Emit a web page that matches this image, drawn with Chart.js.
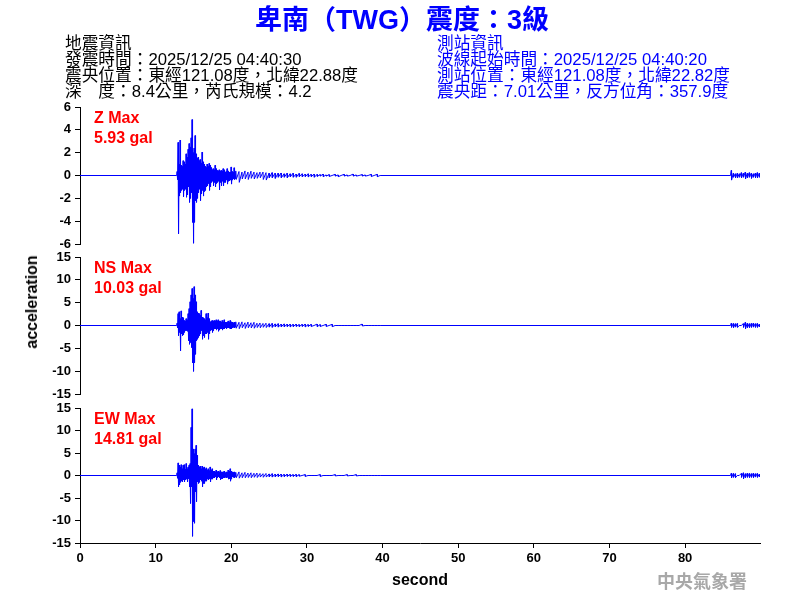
<!DOCTYPE html>
<html>
<head>
<meta charset="utf-8">
<script src="https://cdn.jsdelivr.net/npm/chart.js@4"></script>
<style>
  body { margin: 0; background: #fff; }
  #wrap { position: relative; width: 800px; height: 600px; overflow: hidden; font-family: Arial, "Liberation Sans", "Noto Sans CJK TC", sans-serif; }
  #wrap canvas { position: absolute; left: 0; top: 0; }
  .txt { position: absolute; white-space: nowrap; }
  #title { left: 0; width: 804px; top: 5px; text-align: center; font-size: 27px; font-weight: bold; color: #0000ff; line-height: 30px; }
  .info { font-size: 16.7px; line-height: 16px; top: 36px; }
  #quake { left: 65px; color: #000; }
  #station { left: 437px; color: #0000ff; }
  .peak { left: 94px; color: #ff0000; font-size: 16px; font-weight: bold; line-height: 20px; }
  #ytitle { left: 32px; top: 302px; font-size: 16px; font-weight: bold; transform: translate(-50%, -50%) rotate(-90deg); }
  #mark { left: 657px; top: 567px; font-size: 18px; font-weight: bold; color: #a8a8a8; }
</style>
</head>
<body>
<div id="wrap">
  <canvas id="chartZ" width="800" height="600"></canvas>
  <canvas id="chartNS" width="800" height="600"></canvas>
  <canvas id="chartEW" width="800" height="600"></canvas>
  <div id="title" class="txt">卑南（TWG）震度：3級</div>
  <div id="quake" class="txt info"></div>
  <div id="station" class="txt info"></div>
  <div id="ytitle" class="txt">acceleration</div>
  <div id="mark" class="txt">中央氣象署</div>
</div>
<script>
// header text
const quakeInfo = ["地震資訊", "發震時間：2025/12/25 04:40:30", "震央位置：東經121.08度，北緯22.88度", "深　度：8.4公里，芮氏規模：4.2"];
const stationInfo = ["測站資訊", "波線起始時間：2025/12/25 04:40:20", "測站位置：東經121.08度，北緯22.82度", "震央距：7.01公里，反方位角：357.9度"];

// channels and peak ground acceleration (gal)
const channels = ["Z", "NS", "EW"];
const peakGal = [5.93, 10.03, 14.81];

// tick labels
const secondTicks = [0, 10, 20, 30, 40, 50, 60, 70, 80];
const zTicks = [-6, -4, -2, 0, 2, 4, 6];
const hTicks = [-15, -10, -5, 0, 5, 10, 15];
const xMax = 89.9;

// sampling of the traced waveform (seconds)
const burstT0 = 12.83, burstDt = 0.1322;   // strong motion, one max/min pair per step
const codaT0 = 20.62, codaDt = 0.397;      // coda, one max/min pair per step
const lateT0 = 86.1, lateDt = 0.264;       // arrival at the end of the record

// Z component (gal)
const zBurst = [0.35,-0.35, 2.9,-5.1, 1.0,-1.8, 3.1,-1.5, 0.9,-1.3, 0.8,-1.2, 1.3,-1.85, 1.2,-1.3, 1.0,-1.2, 1.9,-1.9,
  1.6,-1.7, 2.3,-1.0, 2.8,-2.35, 2.5,-2.0, 3.3,-1.5, 4.9,-4.1, 2.0,-5.93, 2.4,-4.1, 3.5,-2.2, 1.9,-2.35,
  1.5,-2.0, 1.6,-1.5, 1.3,-1.2, 1.4,-2.2, 1.1,-1.6, 2.05,-1.3, 1.2,-1.8, 1.0,-1.4, 0.8,-1.3, 0.7,-1.0,
  1.0,-0.9, 0.8,-0.7, 1.06,-1.3, 0.9,-1.0, 0.7,-0.6, 0.5,-0.5, 0.6,-0.9, 0.5,-0.6, 0.9,-1.0, 0.6,-0.7,
  0.45,-0.6, 0.4,-0.5, 0.5,-1.25, 0.4,-0.6, 0.45,-0.9, 0.4,-0.5, 0.6,-0.9, 0.5,-0.6, 0.3,-0.6, 0.35,-0.4,
  0.6,-0.75, 0.4,-0.5, 0.3,-0.45, 0.3,-0.4, 0.75,-0.75, 0.35,-0.4, 0.3,-0.3, 0.68,-0.35, 0.3,-0.3];
const zCoda = [0.4,-0.35, 0.35,-0.6, 0.3,-0.3, 0.4,-0.3, 0.3,-0.35, 0.38,-0.25, 0.3,-0.3, 0.25,-0.25, 0.3,-0.2, 0.3,-0.35,
  0.25,-0.4, 0.2,-0.2, 0.25,-0.2, 0.2,-0.25, 0.2,-0.15, 0.22,-0.2, 0.15,-0.15, 0.2,-0.2, 0.15,-0.12, 0.2,-0.15,
  0.12,-0.15, 0.18,-0.1, 0.15,-0.12, 0.12,-0.1, 0.15,-0.12, 0.1,-0.1, 0.12,-0.15, 0.1,-0.08, 0.08,-0.05, 0.12,-0.1,
  0.05,-0.05, 0.08,-0.08, 0,0, 0.1,-0.05, 0.05,-0.1, 0,0, 0.1,-0.05, 0.05,-0.05, 0,0, 0.12,-0.05,
  0.05,-0.05, 0,0, 0.08,-0.05, 0.05,-0.05, 0,0, 0.1,-0.08, 0,0, 0.1,-0.1, 0,0];
const zLate = [0.45,-0.4, 0.2,-0.15, 0.15,-0.2, 0.2,-0.2, 0.15,-0.15, 0.25,-0.2, 0.2,-0.15, 0.3,-0.3, 0.2,-0.2, 0.25,-0.15,
  0.2,-0.25, 0.15,-0.15, 0.2,-0.2, 0.25,-0.2, 0.2,-0.15];

// NS component (gal)
const nsBurst = [0.5,-0.5, 2.6,-2.2, 3.0,-1.5, 1.5,-5.55, 3.2,-1.85, 1.85,-2.2, 1.7,-2.0, 1.1,-1.5, 1.0,-1.1, 1.5,-1.1,
  1.25,-1.25, 2.6,-3.3, 3.7,-4.1, 5.2,-3.7, 6.7,-4.8, 8.1,-8.15, 5.9,-10.03, 8.5,-8.15, 6.7,-6.3, 5.2,-3.3,
  3.0,-3.0, 2.7,-2.6, 2.6,-2.2, 2.2,-1.85, 3.3,-1.1, 1.85,-3.0, 1.7,-2.2, 1.5,-2.6, 1.25,-1.85, 2.6,-1.85,
  1.7,-1.5, 2.7,-3.0, 1.5,-1.85, 0.75,-1.1, 1.0,-1.0, 1.1,-1.5, 1.0,-1.1, 1.1,-0.75, 1.0,-0.75, 1.25,-1.0,
  1.0,-0.75, 1.25,-1.25, 1.0,-1.0, 1.0,-0.75, 0.75,-0.75, 1.1,-1.0, 0.8,-0.75, 1.25,-0.75, 0.75,-0.5, 0.75,-0.75,
  0.7,-0.5, 1.0,-0.5, 0.7,-0.6, 1.1,-0.75, 0.8,-0.7, 0.75,-0.5, 0.5,-0.4, 0.75,-0.5, 0.5,-0.4];
const nsCoda = [0.8,-0.6, 0.7,-0.7, 0.8,-0.5, 0.6,-0.65, 0.75,-0.5, 0.6,-0.55, 0.7,-0.6, 0.5,-0.45, 0.55,-0.5, 0.45,-0.4,
  0.5,-0.45, 0.4,-0.35, 0.45,-0.4, 0.35,-0.3, 0.4,-0.35, 0.3,-0.3, 0.35,-0.3, 0.3,-0.25, 0.3,-0.3, 0.25,-0.25,
  0.3,-0.2, 0.2,-0.25, 0.25,-0.2, 0.3,-0.3, 0.2,-0.2, 0.25,-0.2, 0,0, 0.3,-0.25, 0.2,-0.2, 0,0,
  0.25,-0.2, 0,0, 0.25,-0.25, 0,0, 0,0, 0,0, 0,0, 0,0, 0,0, 0,0,
  0,0, 0,0, 0.3,-0.1, 0,0, 0,0, 0,0, 0,0, 0,0, 0,0];
const nsLate = [0.5,-0.4, 0.45,-0.45, 0.4,-0.35, 0.45,-0.4, 0,0, 0,0, 0.4,-0.4, 0.7,-0.7, 0.5,-0.45, 0.4,-0.45,
  0.45,-0.4, 0.5,-0.35, 0.4,-0.4, 0.45,-0.4, 0.3,-0.3];

// EW component (gal)
const ewBurst = [0.6,-0.6, 2.8,-2.5, 2.3,-2.1, 1.9,-1.5, 2.4,-1.25, 1.5,-1.4, 2.3,-1.0, 2.4,-1.4, 1.4,-1.0, 2.65,-0.8,
  1.5,-1.4, 1.9,-0.7, 2.3,-2.5, 2.65,-6.2, 10.7,-2.5, 14.81,-13.5, 5.9,-10.2, 4.85,-10.6, 5.9,-3.6, 6.7,-5.8,
  4.5,-1.4, 2.3,-1.75, 1.9,-1.5, 2.1,-1.0, 1.5,-1.25, 2.1,-2.5, 1.7,-1.75, 1.9,-1.75, 1.4,-1.25, 1.7,-1.25,
  1.2,-0.8, 1.5,-1.0, 1.1,-0.7, 1.9,-1.4, 1.2,-0.8, 1.5,-0.8, 1.0,-0.5, 1.0,-0.5, 0.8,-0.3, 1.2,-1.0,
  0.8,-0.5, 1.0,-0.3, 0.7,-0.5, 1.1,-1.0, 0.8,-0.7, 0.8,-0.7, 0.7,-0.5, 1.0,-0.5, 0.6,-0.4, 0.8,-0.5,
  0.7,-0.4, 1.2,-0.8, 1.0,-0.7, 1.5,-1.25, 1.0,-0.8, 0.8,-0.3, 0.7,-0.4, 0.8,-0.5, 0.6,-0.3];
const ewCoda = [0.7,-0.5, 0.8,-0.6, 0.6,-0.5, 0.7,-0.5, 0.55,-0.45, 0.6,-0.5, 0.5,-0.4, 0.55,-0.45, 0.45,-0.35, 0.4,-0.4,
  0.45,-0.35, 0.35,-0.3, 0.4,-0.35, 0.3,-0.3, 0.35,-0.25, 0.3,-0.3, 0.25,-0.25, 0.3,-0.2, 0.25,-0.2, 0.2,-0.2,
  0.25,-0.25, 0.2,-0.15, 0,0, 0.2,-0.2, 0,0, 0,0, 0,0, 0,0, 0.2,-0.2, 0,0,
  0,0, 0,0, 0,0, 0.2,-0.1, 0,0, 0,0, 0,0, 0.2,-0.1, 0,0, 0,0,
  0.2,-0.1, 0,0, 0,0, 0,0, 0,0, 0,0, 0,0, 0,0, 0,0];
const ewLate = [0.5,-0.5, 0.45,-0.4, 0.4,-0.45, 0,0, 0,0, 0.45,-0.4, 0.6,-0.7, 0.4,-0.45, 0.5,-0.4, 0.45,-0.45,
  0.4,-0.4, 0.5,-0.45, 0.4,-0.35, 0.45,-0.4, 0.3,-0.3];

document.getElementById("quake").innerHTML = quakeInfo.join("<br>");
document.getElementById("station").innerHTML = stationInfo.join("<br>");

// each max/min pair is drawn as a near-vertical stroke inside its time step
function pairs(pts, values, t0, dt, lag) {
  values.forEach((v, i) => {
    const step = Math.floor(i / 2);
    pts.push({ x: t0 + step * dt + (i % 2 ? lag : 0), y: v });
  });
}

// quiet record before and between the bursts sits on 0
function trace(burst, coda, late) {
  const pts = [{ x: 0, y: 0 }, { x: burstT0 - 0.05, y: 0 }];
  pairs(pts, burst, burstT0, burstDt, burstDt / 2);
  pairs(pts, coda, codaT0, codaDt, 0.04);
  pts.push({ x: lateT0 - 0.1, y: 0 });
  pairs(pts, late, lateT0, lateDt, 0.04);
  pts.push({ x: xMax, y: 0 });
  return pts;
}

// panel edges chosen so the zero line falls on a pixel row
const panels = [
  { id: "chartZ", top: 107, bottom: 244, ticks: zTicks, data: trace(zBurst, zCoda, zLate) },
  { id: "chartNS", top: 257, bottom: 394, ticks: hTicks, data: trace(nsBurst, nsCoda, nsLate) },
  { id: "chartEW", top: 408, bottom: 543, ticks: hTicks, data: trace(ewBurst, ewCoda, ewLate) },
];

const tickFont = { family: "Arial, 'Liberation Sans'", size: 13, weight: "bold" };

panels.forEach((p, k) => {
  const last = k === panels.length - 1;
  new Chart(document.getElementById(p.id), {
    type: "line",
    data: {
      datasets: [{
        data: p.data,
        borderColor: "#0000ff",
        borderWidth: 1,
        pointRadius: 0,
        tension: 0,
        fill: false,
      }],
    },
    options: {
      responsive: false,
      animation: false,
      events: [],
      layout: { padding: { left: 0, right: 40, top: p.top, bottom: last ? 0 : 600 - p.bottom } },
      plugins: { legend: { display: false }, tooltip: { enabled: false } },
      scales: {
        x: {
          type: "linear",
          min: 0,
          max: xMax,
          display: last,
          afterFit: (s) => { if (last) s.height = 600 - p.bottom; },
          afterBuildTicks: (s) => { s.ticks = secondTicks.map((v) => ({ value: v })); },
          grid: { display: true, drawOnChartArea: false, drawTicks: true, tickLength: 5, color: "#000" },
          border: { display: true, color: "#000", width: 1 },
          ticks: { color: "#000", font: tickFont, padding: 3, maxRotation: 0 },
          title: { display: true, text: "second", color: "#000", font: { family: "Arial, 'Liberation Sans'", size: 16, weight: "bold" }, padding: { top: 4, bottom: 10 } },
        },
        y: {
          type: "linear",
          min: p.ticks[0],
          max: p.ticks[p.ticks.length - 1],
          afterFit: (s) => { s.width = 80; },
          afterBuildTicks: (s) => { s.ticks = p.ticks.map((v) => ({ value: v })); },
          grid: { display: true, drawOnChartArea: false, drawTicks: true, tickLength: 5, color: "#000" },
          border: { display: true, color: "#000", width: 1 },
          ticks: { color: "#000", font: tickFont, padding: 4 },
        },
      },
    },
  });

  const lab = document.createElement("div");
  lab.className = "txt peak";
  lab.style.top = (p.top + 1) + "px";
  lab.innerHTML = channels[k] + " Max<br>" + peakGal[k].toFixed(2) + " gal";
  document.getElementById("wrap").appendChild(lab);
});
</script>
</body>
</html>
